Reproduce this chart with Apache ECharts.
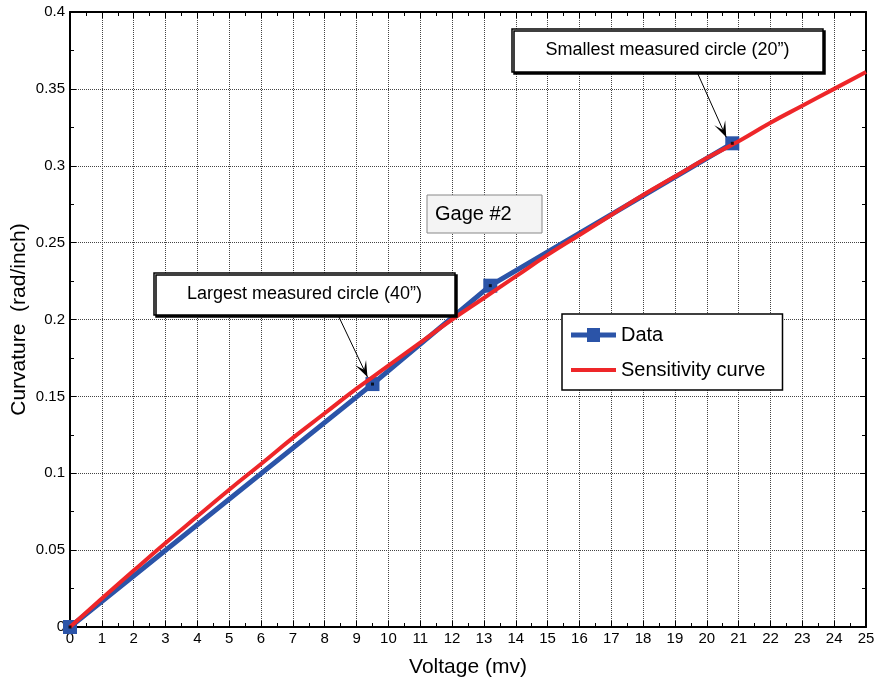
<!DOCTYPE html>
<html>
<head>
<meta charset="utf-8">
<script src="https://cdn.jsdelivr.net/npm/echarts@6/dist/echarts.min.js"></script>
<style>
  html, body { margin: 0; padding: 0; background: #fff; }
  #chart { width: 876px; height: 689px; }
</style>
</head>
<body>
<div id="chart"></div>
<script>
// Measured gage data: voltage (mv) vs curvature (rad/inch)
const dataVoltage = [0, 9.5, 13.2, 20.8];
const dataCurvature = [0, 0.158, 0.222, 0.3146];

// Fitted sensitivity curve, sampled every 1 mv
const curveVoltage = [0, 1, 2, 3, 4, 5, 6, 7, 8, 9, 10, 11, 12, 13, 14, 15, 16, 17, 18, 19, 20, 21, 22, 23, 24, 25];
const curveCurvature = [0, 0.0185, 0.0367, 0.0546, 0.072, 0.0893, 0.106, 0.123, 0.139, 0.155, 0.170, 0.185, 0.200,
  0.214, 0.228, 0.242, 0.255, 0.268, 0.281, 0.293, 0.305, 0.316, 0.328, 0.339, 0.350, 0.361];

const FONT = 'Liberation Sans, Arial, sans-serif';
const BLUE = '#2b54a8';
const RED = '#ee2629';

// legend glyphs: thick line with a square marker, and a plain thick line
const ICON_DATA = 'path://M0,4.5L16,4.5L16,0L29,0L29,4.5L45,4.5L45,9.5L29,9.5L29,14L16,14L16,9.5L0,9.5Z';
const ICON_CURVE = 'path://M0,0L45,0L45,4L0,4Z';

const pairs = (xs, ys) => xs.map((x, i) => [x, ys[i]]);

const chart = echarts.init(document.getElementById('chart'));

const gridLine = { show: true, lineStyle: { color: '#444', width: 1, type: [1, 1] } };
const tick = { show: true, inside: true, length: 6, lineStyle: { color: '#000' } };
const minor = { show: true, splitNumber: 2, length: 4, lineStyle: { color: '#000' } };
const frame = { show: true, onZero: false, lineStyle: { color: '#000', width: 2 } };

const option = {
  backgroundColor: '#fff',
  animation: false,
  textStyle: { fontFamily: FONT },
  grid: { left: 70, right: 10, top: 12, bottom: 62, containLabel: false, outerBoundsMode: 'none' },
  legend: {
    orient: 'vertical',
    left: 562, top: 314,
    padding: [11, 17, 10, 9],
    itemGap: 15,
    itemWidth: 45, itemHeight: 14,
    borderColor: '#000', borderWidth: 1.5,
    backgroundColor: '#fff',
    textStyle: { fontFamily: FONT, fontSize: 20, color: '#000' },
    data: [
      { name: 'Data', icon: ICON_DATA, itemStyle: { color: BLUE } },
      { name: 'Sensitivity curve', icon: ICON_CURVE, itemStyle: { color: RED } }
    ]
  },
  xAxis: [{
    type: 'value', min: 0, max: 25, interval: 1,
    name: 'Voltage (mv)', nameLocation: 'middle', nameGap: 30, nameMoveOverlap: false,
    nameTextStyle: { fontFamily: FONT, fontSize: 21, color: '#000' },
    axisLine: frame, axisTick: tick, minorTick: minor,
    axisLabel: { fontFamily: FONT, fontSize: 15, color: '#000', margin: 4 },
    splitLine: gridLine
  }, {
    type: 'value', position: 'top', min: 0, max: 25, interval: 1,
    axisLine: frame, axisTick: tick, minorTick: minor,
    axisLabel: { show: false },
    splitLine: { show: false }
  }],
  yAxis: [{
    type: 'value', min: 0, max: 0.4, interval: 0.05,
    name: 'Curvature  (rad/inch)', nameLocation: 'middle', nameGap: 40, nameMoveOverlap: false,
    nameTextStyle: { fontFamily: FONT, fontSize: 21, color: '#000' },
    axisLine: frame, axisTick: tick, minorTick: minor,
    axisLabel: { fontFamily: FONT, fontSize: 15, color: '#000', margin: 5,
      formatter: v => String(parseFloat(v.toFixed(3))) },
    splitLine: gridLine
  }, {
    type: 'value', position: 'right', min: 0, max: 0.4, interval: 0.05,
    axisLine: frame, axisTick: tick, minorTick: minor,
    axisLabel: { show: false },
    splitLine: { show: false }
  }],
  series: [
    {
      name: 'Data', type: 'line',
      data: pairs(dataVoltage, dataCurvature),
      lineStyle: { color: BLUE, width: 5 },
      itemStyle: { color: BLUE },
      symbol: 'rect', symbolSize: 14, showSymbol: true,
      z: 2
    },
    {
      name: 'Sensitivity curve', type: 'line',
      data: pairs(curveVoltage, curveCurvature),
      smooth: true,
      lineStyle: { color: RED, width: 4 },
      itemStyle: { color: RED },
      showSymbol: false, symbol: 'none',
      z: 3
    },
    {
      // center dots of the data markers
      name: 'Data centers', type: 'scatter',
      data: pairs(dataVoltage, dataCurvature),
      symbol: 'rect', symbolSize: 3,
      itemStyle: { color: '#000' },
      z: 4, silent: true
    }
  ]
};

chart.setOption(option);

// Annotation boxes with leader arrows pointing to data markers
function arrow(from, to) {
  const dx = to[0] - from[0], dy = to[1] - from[1];
  const len = Math.hypot(dx, dy), ux = dx / len, uy = dy / len;
  const hl = 16, hw = 6;
  const bx = to[0] - ux * hl, by = to[1] - uy * hl;
  return [
    { type: 'line', shape: { x1: from[0], y1: from[1], x2: to[0], y2: to[1] },
      style: { stroke: '#000', lineWidth: 1 }, z: 20 },
    { type: 'polygon', shape: { points: [[to[0], to[1]], [bx - uy * hw, by + ux * hw], [to[0] - ux * 8, to[1] - uy * 8], [bx + uy * hw, by - ux * hw]] },
      style: { fill: '#000' }, z: 20 }
  ];
}

function box(x, y, w, h, text, opts) {
  const left = opts && opts.textLeft;
  return [{
    type: 'rect', shape: { x: x, y: y, width: w, height: h },
    style: Object.assign({ fill: '#fff', stroke: '#000', lineWidth: 1.5,
      shadowColor: '#000', shadowOffsetX: 2, shadowOffsetY: 2, shadowBlur: 0 }, opts && opts.rect),
    z: 20
  }, {
    type: 'text', x: left != null ? x + left : x + w / 2, y: y + h / 2,
    style: Object.assign({ text: text, font: '18px ' + FONT, fill: '#000',
      align: left != null ? 'left' : 'center', verticalAlign: 'middle' }, opts && opts.text),
    z: 21
  }];
}

const pLarge = chart.convertToPixel({ xAxisIndex: 0, yAxisIndex: 0 }, [dataVoltage[1], dataCurvature[1]]);
const pSmall = chart.convertToPixel({ xAxisIndex: 0, yAxisIndex: 0 }, [dataVoltage[3], dataCurvature[3]]);

chart.setOption({
  graphic: [
    ...box(154, 273, 301, 42, 'Largest measured circle (40\u201d)'),
    ...arrow([338, 315], [pLarge[0] - 5, pLarge[1] - 7]),
    ...box(512, 29, 311, 43, 'Smallest measured circle (20\u201d)'),
    ...arrow([697, 72], [pSmall[0] - 6, pSmall[1] - 6]),
    ...box(427, 195, 115, 38, 'Gage #2', {
      textLeft: 8,
      rect: { fill: '#f4f4f4', stroke: '#888', lineWidth: 1, shadowOffsetX: 0, shadowOffsetY: 0 },
      text: { font: '20px ' + FONT }
    })
  ]
});
</script>
</body>
</html>
